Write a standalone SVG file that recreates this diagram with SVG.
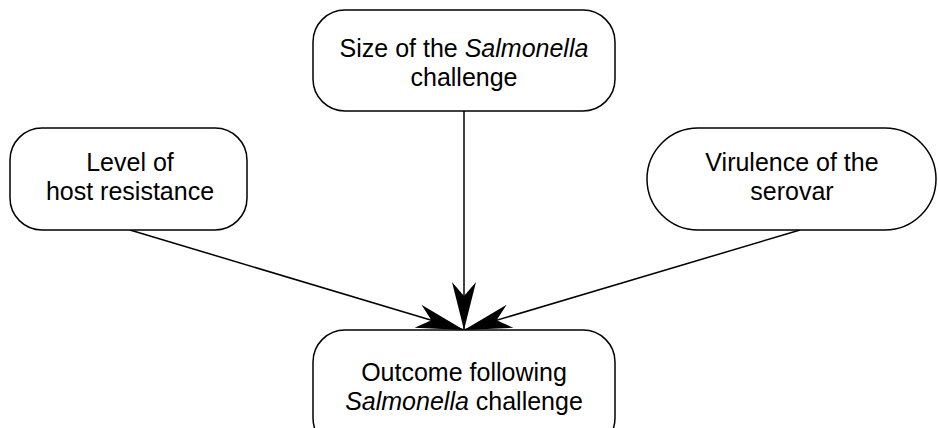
<svg xmlns="http://www.w3.org/2000/svg" width="938" height="428" viewBox="0 0 938 428">
<style>
.box{fill:#fff;stroke:#000;stroke-width:1.5}
.t{font-family:"Liberation Sans",Arial,sans-serif;font-size:25px;fill:#000;text-anchor:middle}
.i{font-style:italic}
.c{stroke:#000;stroke-width:1.5;fill:none}
</style>
<defs>
<marker id="ah" markerUnits="userSpaceOnUse" markerWidth="60" markerHeight="40" refX="0" refY="0" viewBox="-50 -20 60 40" orient="auto" overflow="visible">
<path d="M0,0 L-48,-12 L-34,0 L-48,12 Z" fill="#000"/>
</marker>
</defs>
<g id="connectors">
<line class="c" x1="464" y1="111" x2="464" y2="330" marker-end="url(#ah)"/>
<line class="c" x1="130" y1="230" x2="464" y2="330" marker-end="url(#ah)"/>
<line class="c" x1="800" y1="230" x2="464" y2="330" marker-end="url(#ah)"/>
</g>
<g id="size">
<rect class="box" x="313" y="10" width="302" height="101" rx="32" ry="32"/>
<text class="t" x="464" y="57">Size of the <tspan class="i">Salmonella</tspan></text>
<text class="t" x="464" y="86">challenge</text>
</g>
<g id="host">
<rect class="box" x="10" y="128" width="237" height="102" rx="32" ry="32"/>
<text class="t" x="130" y="171">Level of</text>
<text class="t" x="130" y="200">host resistance</text>
</g>
<g id="virulence">
<rect class="box" x="647" y="128" width="289" height="102" rx="51" ry="51"/>
<text class="t" x="792" y="171">Virulence of the</text>
<text class="t" x="792" y="200">serovar</text>
</g>
<g id="outcome">
<rect class="box" x="313" y="330" width="302" height="120" rx="32" ry="32"/>
<text class="t" x="464" y="381">Outcome following</text>
<text class="t" x="464" y="410"><tspan class="i">Salmonella</tspan> challenge</text>
</g>
</svg>
